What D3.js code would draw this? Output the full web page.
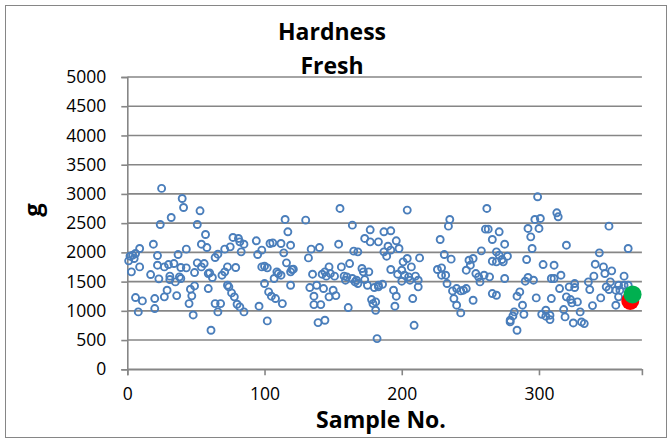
<!DOCTYPE html>
<html><head><meta charset="utf-8">
<script src="https://cdn.jsdelivr.net/npm/d3@7"></script>
<style>
html,body{margin:0;padding:0;background:#fff;}
text{font-family:"Open Sans","Liberation Sans",sans-serif;}
</style></head>
<body><svg id="c" width="671" height="443"></svg>
<script>
const titleLines = ["Hardness", "Fresh"];
const xTitle = "Sample No.";
const yTitle = "g";
const xTicks = [0, 100, 200, 300];
const yTicks = [0, 500, 1000, 1500, 2000, 2500, 3000, 3500, 4000, 4500, 5000];

const sampleNo = [
1,2,4,6,5,9,3,9,6,11,8,19,22,22,17,23,20,20,25,24,32,27,30,34,27,29,31,31,35,36,37,39,38,39,40,41,43,43,46,45,48,47,49,49,51,53,51,54,54,57,58,56,59,59,61,
60,62,64,66,64,68,66,71,69,71,73,73,74,75,77,81,82,85,83,79,76,78,80,82,85,94,95,98,98,100,102,100,104,106,112,115,117,114,119,116,119,109,110,112,107,103,105,108,113,96,102,119,120,
121,130,134,140,132,135,142,144,133,138,143,136,136,141,139,144,147,147,150,152,148,151,155,154,156,158,159,160,162,164,165,168,161,164,166,168,171,172,173,176,175,173,177,177,183,178,179,181,182,180,183,167,145,
181,183,186,187,192,190,187,189,192,196,198,192,197,200,194,196,195,204,201,204,200,202,207,205,206,210,212,213,212,208,209,235,234,228,231,236,226,229,229,232,233,237,240,243,245,238,240,243,247,
247,252,249,250,252,258,254,256,257,260,264,262,261,263,271,266,275,269,271,266,269,273,277,274,275,266,269,286,284,288,289,282,281,279,279,284,299,297,301,300,292,294,295,291,303,290,292,296,298,302,305,305,
308,308,309,309,311,311,316,313,314,320,315,318,319,320,322,323,324,326,326,328,330,325,331,333,336,337,340,341,339,344,351,347,348,353,352,349,351,345,356,358,362,365,359,358,356,362,365
];
const hardness = [
1855,1935,1952,1981,1895,2066,1667,1752,1227,1170,982,2140,1946,1781,1621,1547,1210,1039,3094,2477,2597,1752,1792,1809,1239,1353,1535,1593,1495,1261,1963,1741,1581,1553,2922,2768,2055,1735,1370,1124,930,1256,1427,1655,1821,2711,2477,1752,2140,2306,2083,1809,1638,1381,668,
1650,1570,1912,1969,1124,1124,982,2055,1610,1667,1752,1438,1410,2095,2255,2238,2180,2140,2009,1741,1307,1239,1113,1067,982,2198,1963,2038,1752,1764,1735,1467,2152,2163,2152,2563,2352,1992,2123,1821,1667,1667,1638,1610,1553,1324,1250,1210,1124,1079,828,1438,1707,
1712,2551,2055,2083,1906,1627,1627,1667,1398,1438,1381,1250,1107,1107,799,839,1752,1239,1353,1261,1638,1593,2751,2140,1752,1593,1524,1581,1809,2466,2021,2009,1056,1553,1495,1467,1724,1667,1535,1667,1438,2238,2386,2180,2180,1193,1124,1010,525,1398,1438,1524,1593,
1153,1410,1455,2352,2369,2106,2009,1935,2038,2198,2066,1707,1627,1507,1353,1250,1079,2723,1838,1895,1695,1610,1752,1581,1524,1593,1524,1906,1410,1210,753,2563,2449,2220,1963,1884,1707,1735,1610,1610,1467,1341,1381,1341,1353,1210,1096,965,1695,
1381,1181,1866,1781,1895,2026,1638,1581,1495,1610,1581,2751,2397,2397,2352,2220,2140,2009,1952,1849,1838,1878,1935,1838,1553,1296,1267,1324,1250,1096,942,982,913,839,811,668,2951,2563,2580,2409,2409,2266,2066,1878,1792,1507,1570,1524,1221,942,1010,908,
850,925,1210,1553,1553,1781,1610,2677,2609,2123,1381,1022,896,1239,1410,1193,1136,1467,1398,1153,982,793,810,782,1495,1364,1593,1798,1090,1992,2449,1752,1638,1684,1495,1410,1364,1221,1353,1438,1593,2066,1353,1239,1096,1438,1438
];
const highlightNo = [366.5, 368.2];
const highlightVal = [1170, 1280];
const highlightColor = ["#FF0000", "#00B050"];

const svg = d3.select("#c");
const x = d3.scaleLinear().domain([0, 375]).range([127.3, 641.9]);
const y = d3.scaleLinear().domain([0, 5000]).range([369.3, 77]);
const grey = "#868686";

// outer border
svg.append("rect").attr("x", 5.5).attr("y", 5.5).attr("width", 661).attr("height", 432)
  .attr("fill", "#fff").attr("stroke", grey).attr("stroke-width", 1);

// gridlines
svg.append("g").selectAll("line").data(yTicks).join("line")
  .attr("x1", x(0)).attr("x2", x(375)).attr("y1", d => y(d)).attr("y2", d => y(d))
  .attr("stroke", grey).attr("stroke-width", 1.6);

// y axis
const yAxis = d3.axisLeft(y).tickValues(yTicks).tickSize(6).tickPadding(15).tickFormat(d3.format("d"));
const gy = svg.append("g").attr("transform", `translate(${x(0)},0)`).call(yAxis);
gy.select(".domain").attr("stroke", grey).attr("stroke-width", 1.6);
gy.selectAll(".tick line").attr("stroke", grey).attr("stroke-width", 1.6);
gy.selectAll(".tick text").attr("font-size", 17.5).attr("fill", "#000")
  .attr("font-family", "'Open Sans', sans-serif");

// x axis
const xAxis = d3.axisBottom(x).tickValues(xTicks).tickSize(6).tickPadding(12).tickFormat(d3.format("d"));
const gx = svg.append("g").attr("transform", `translate(0,${y(0)})`).call(xAxis);
gx.select(".domain").attr("stroke", grey).attr("stroke-width", 1.6);
gx.selectAll(".tick line").attr("stroke", grey).attr("stroke-width", 1.6);
gx.selectAll(".tick text").attr("font-size", 17.5).attr("fill", "#000")
  .attr("font-family", "'Open Sans', sans-serif");

// points
const pts = sampleNo.map((s, i) => ({s, v: hardness[i]}));
svg.append("g").selectAll("circle").data(pts).join("circle")
  .attr("cx", d => x(d.s)).attr("cy", d => y(d.v)).attr("r", 3.5)
  .attr("fill", "none").attr("stroke", "#4A7EBB").attr("stroke-width", 1.9);

const hl = highlightNo.map((s, i) => ({s, v: highlightVal[i], c: highlightColor[i]}));
svg.append("g").selectAll("circle").data(hl).join("circle")
  .attr("cx", d => x(d.s)).attr("cy", d => y(d.v)).attr("r", 9)
  .attr("fill", d => d.c);

// titles
svg.append("text").attr("x", 332).attr("y", 39.5).attr("text-anchor", "middle")
  .attr("font-size", 23).attr("font-weight", "bold").text(titleLines[0]);
svg.append("text").attr("x", 332).attr("y", 74).attr("text-anchor", "middle")
  .attr("font-size", 23).attr("font-weight", "bold").text(titleLines[1]);
svg.append("text").attr("x", 381).attr("y", 428).attr("text-anchor", "middle")
  .attr("font-size", 23).attr("font-weight", "bold").text(xTitle);
svg.append("text").attr("transform", "translate(41,210) rotate(-90)").attr("text-anchor", "middle")
  .attr("font-size", 24).attr("font-weight", "bold").text(yTitle);
</script></body></html>
